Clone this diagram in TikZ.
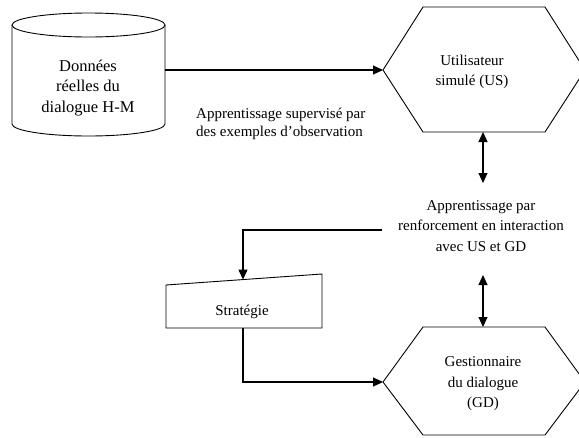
\documentclass[tikz,border=0pt]{standalone}
\usepackage{fontspec}
\setmainfont{Liberation Serif}
\usetikzlibrary{arrows.meta}
\begin{document}
\begin{tikzpicture}[x=1pt,y=-1pt,
  shapeline/.style={draw=black, line width=0.9pt},
  conn/.style={draw=black, line width=1.1pt, -{Triangle[length=10pt,width=9pt]}},
  dconn/.style={draw=black, line width=1.1pt, {Triangle[length=10pt,width=9pt]}-{Triangle[length=10pt,width=9pt]}},
  txt/.style={font=\fontsize{15}{20.5}\selectfont, align=center, inner sep=0pt},
  bigtxt/.style={font=\fontsize{16.5}{20.5}\selectfont, align=center, inner sep=0pt}]
\useasboundingbox (0,0) rectangle (579,437);
% cylinder
\draw[shapeline, fill=white] (12,25) -- (12,124) arc[start angle=180, end angle=360, x radius=76.5, y radius=-12] -- (165,25);
\draw[shapeline] (88.5,25) ellipse[x radius=76.5, y radius=12];
\node[bigtxt] (db) at (88,88) {Données\\réelles du\\dialogue H-M};
\coordinate (dbR) at (165,70);
% US hexagon
\draw[shapeline] (383,70) -- (423,7) -- (545,7) -- (585,70) -- (545,132) -- (423,132) -- cycle;
\node[txt] (us) at (472,72) {Utilisateur\\simulé (US)};
\coordinate (usW) at (383,70);
\coordinate (usS) at (483,132);
% GD hexagon
\draw[shapeline] (383,382) -- (423,327) -- (545,327) -- (585,382) -- (545,435) -- (423,435) -- cycle;
\node[txt] (gd) at (483,384) {Gestionnaire\\du dialogue\\(GD)};
\coordinate (gdW) at (383,382);
\coordinate (gdN) at (483,327);
% Strategy (manual input)
\draw[shapeline] (166,285) -- (322,274) -- (322,328) -- (166,328) -- cycle;
\node[txt] (st) at (242,312) {Stratégie};
\coordinate (stN) at (243,279.6);
\coordinate (stS) at (243,328);
% labels
\node[txt, align=left, anchor=west, font=\fontsize{15}{18}\selectfont] (sup) at (196,124) {Apprentissage supervisé par\\des exemples d’observation};
\node[txt] (rl) at (481,226) {Apprentissage par\\renforcement en interaction\\avec US et GD};
\coordinate (rlW) at (382,230);
\coordinate (rlN) at (483,183);
\coordinate (rlS) at (483,275);
% connectors
\draw[conn] (dbR) -- (usW);
\draw[dconn] (usS) -- (rlN);
\draw[dconn] (rlS) -- (gdN);
\draw[conn] (rlW) -| (stN);
\draw[conn] (stS) |- (gdW);
\end{tikzpicture}
\end{document}
